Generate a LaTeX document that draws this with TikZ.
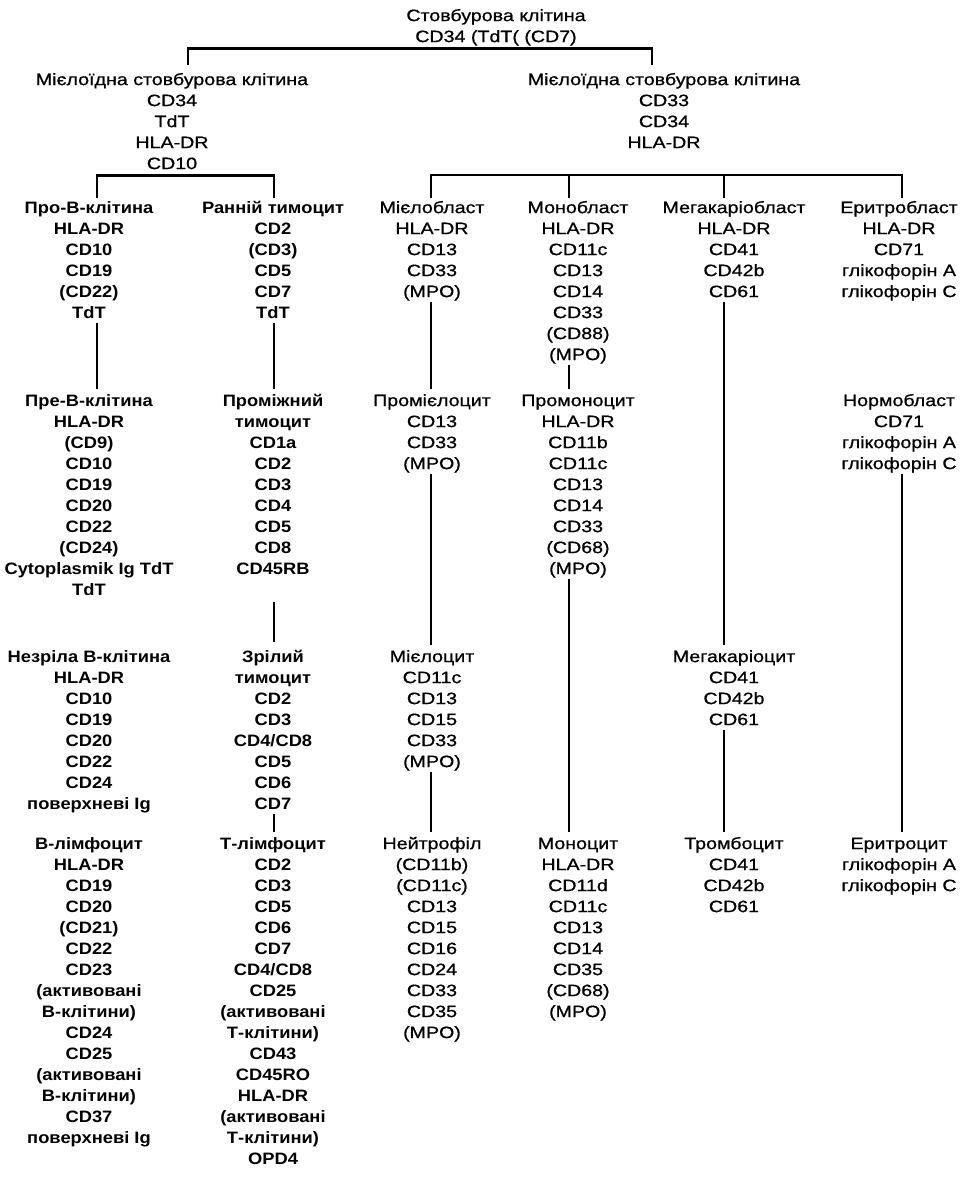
\documentclass[tikz,border=0pt]{standalone}
\usepackage{fontspec}
\setmainfont{Liberation Sans}
\newfontfamily\fa{Liberation Sans}[FakeStretch=1.19,FakeBold=0.8]
\newfontfamily\fb{Liberation Sans}[FakeStretch=1.11]
\begin{document}
\begin{tikzpicture}[x=1pt,y=-1pt,
  blk/.style={align=center, inner sep=0pt, anchor=north, font=\fa\fontsize{16.5}{21}\selectfont},
  blkb/.style={blk, font=\fb\bfseries\fontsize{16.5}{21}\selectfont},
  conn/.style={line width=2.8pt, shorten <=-1.2pt, shorten >=2.2pt},
  br/.style={line width=2.3pt}]
\useasboundingbox (0,0) rectangle (970,1183);
% column axes for connectors
\coordinate (c1) at (97,0);
\coordinate (c2) at (274,0);
\coordinate (c3) at (431,0);
\coordinate (c4) at (569,0);
\coordinate (c5) at (724,0);
\coordinate (c6) at (902,0);
\coordinate (t1) at (188,65);
\coordinate (t2) at (652,65);
\coordinate (rj) at (664,175);

% top
\node[blk] (top) at (496,6.2) {\strut Стовбурова клітина\\CD34 (TdT( (CD7)\strut};
\node[blk] (lm) at (172,70.2) {\strut Мієлоїдна стовбурова клітина\\CD34\\TdT\\HLA-DR\\CD10\strut};
\node[blk] (rm) at (664,70.2) {\strut Мієлоїдна стовбурова клітина\\CD33\\CD34\\HLA-DR\strut};

% column 1
\node[blkb] (pro) at (89,198.2) {\strut Про-В-клітина\\HLA-DR\\CD10\\CD19\\(CD22)\\TdT\strut};
\node[blkb] (pre) at (89,391.2) {\strut Пре-В-клітина\\HLA-DR\\(CD9)\\CD10\\CD19\\CD20\\CD22\\(CD24)\\Cytoplasmik Ig TdT\\TdT\strut};
\node[blkb] (imb) at (89,647.2) {\strut Незріла В-клітина\\HLA-DR\\CD10\\CD19\\CD20\\CD22\\CD24\\поверхневі Ig\strut};
\node[blkb] (bly) at (89,834.2) {\strut В-лімфоцит\\HLA-DR\\CD19\\CD20\\(CD21)\\CD22\\CD23\\(активовані\\В-клітини)\\CD24\\CD25\\(активовані\\В-клітини)\\CD37\\поверхневі Ig\strut};

% column 2
\node[blkb] (ert) at (273,198.2) {\strut Ранній тимоцит\\CD2\\(CD3)\\CD5\\CD7\\TdT\strut};
\node[blkb] (mid) at (273,391.2) {\strut Проміжний\\тимоцит\\CD1a\\CD2\\CD3\\CD4\\CD5\\CD8\\CD45RB\strut};
\node[blkb] (mat) at (273,647.2) {\strut Зрілий\\тимоцит\\CD2\\CD3\\CD4/CD8\\CD5\\CD6\\CD7\strut};
\node[blkb] (tly) at (273,834.2) {\strut Т-лімфоцит\\CD2\\CD3\\CD5\\CD6\\CD7\\CD4/CD8\\CD25\\(активовані\\Т-клітини)\\CD43\\CD45RO\\HLA-DR\\(активовані\\Т-клітини)\\OPD4\strut};

% column 3
\node[blk] (mbl) at (432,198.2) {\strut Мієлобласт\\HLA-DR\\CD13\\CD33\\(MPO)\strut};
\node[blk] (pmc) at (432,391.2) {\strut Промієлоцит\\CD13\\CD33\\(MPO)\strut};
\node[blk] (myc) at (432,647.2) {\strut Мієлоцит\\CD11c\\CD13\\CD15\\CD33\\(MPO)\strut};
\node[blk] (neu) at (432,834.2) {\strut Нейтрофіл\\(CD11b)\\(CD11c)\\CD13\\CD15\\CD16\\CD24\\CD33\\CD35\\(MPO)\strut};

% column 4
\node[blk] (mob) at (578,198.2) {\strut Монобласт\\HLA-DR\\CD11c\\CD13\\CD14\\CD33\\(CD88)\\(MPO)\strut};
\node[blk] (pmo) at (578,391.2) {\strut Промоноцит\\HLA-DR\\CD11b\\CD11c\\CD13\\CD14\\CD33\\(CD68)\\(MPO)\strut};
\node[blk] (mon) at (578,834.2) {\strut Моноцит\\HLA-DR\\CD11d\\CD11c\\CD13\\CD14\\CD35\\(CD68)\\(MPO)\strut};

% column 5
\node[blk] (mkb) at (734,198.2) {\strut Мегакаріобласт\\HLA-DR\\CD41\\CD42b\\CD61\strut};
\node[blk] (mkc) at (734,647.2) {\strut Мегакаріоцит\\CD41\\CD42b\\CD61\strut};
\node[blk] (thr) at (734,834.2) {\strut Тромбоцит\\CD41\\CD42b\\CD61\strut};

% column 6
\node[blk] (erb) at (899,198.2) {\strut Еритробласт\\HLA-DR\\CD71\\глікофорін A\\глікофорін C\strut};
\node[blk] (nor) at (899,391.2) {\strut Нормобласт\\CD71\\глікофорін A\\глікофорін C\strut};
\node[blk] (ery) at (899,834.2) {\strut Еритроцит\\глікофорін A\\глікофорін C\strut};

% brackets
\draw[br] (t1) |- (top.south) -| (t2);
\draw[br] (pro.north -| c1) |- (lm.south) -| (ert.north -| c2);
\draw[br] (mbl.north -| c3) |- (rj) -| (erb.north -| c6);
\draw[br] (rj -| c4) -- (mob.north -| c4);
\draw[br] (rj -| c5) -- (mkb.north -| c5);

% vertical connectors
\draw[conn] (pro.south -| c1) -- (pre.north -| c1);
\draw[conn] (ert.south -| c2) -- (mid.north -| c2);
\draw[conn, shorten <=21.8pt, shorten >=5.2pt] (mid.south -| c2) -- (mat.north -| c2);
\draw[conn] (mat.south -| c2) -- (tly.north -| c2);
\draw[conn] (mbl.south -| c3) -- (pmc.north -| c3);
\draw[conn] (pmc.south -| c3) -- (myc.north -| c3);
\draw[conn] (myc.south -| c3) -- (neu.north -| c3);
\draw[conn] (mob.south -| c4) -- (pmo.north -| c4);
\draw[conn] (pmo.south -| c4) -- (mon.north -| c4);
\draw[conn] (mkb.south -| c5) -- (mkc.north -| c5);
\draw[conn] (mkc.south -| c5) -- (thr.north -| c5);
\draw[conn] (nor.south -| c6) -- (ery.north -| c6);
\end{tikzpicture}
\end{document}
